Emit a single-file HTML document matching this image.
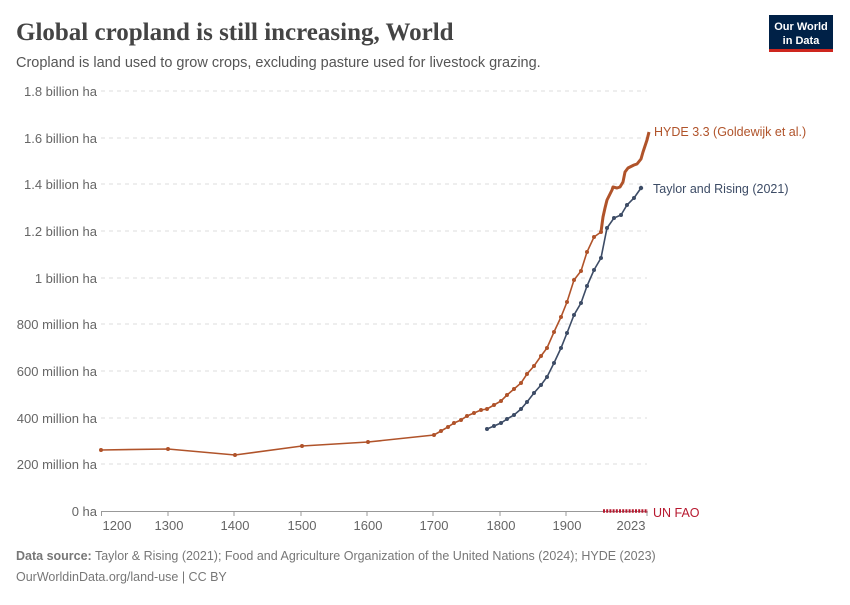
<!DOCTYPE html>
<html><head><meta charset="utf-8"><style>
body{margin:0;background:#fff;width:850px;height:600px;overflow:hidden;font-family:"Liberation Sans",sans-serif}
</style></head><body>
<svg width="850" height="600" xmlns="http://www.w3.org/2000/svg" font-family="Liberation Sans, sans-serif">
<text x="16" y="40" font-family="Liberation Serif, serif" font-size="25" font-weight="bold" fill="#444">Global cropland is still increasing, World</text>
<text x="16" y="67" font-size="14.5" fill="#555">Cropland is land used to grow crops, excluding pasture used for livestock grazing.</text>
<rect x="769" y="15" width="64" height="36" fill="#002147"/>
<rect x="769" y="49" width="64" height="3" fill="#ce261e"/>
<text x="801" y="30" font-size="11" font-weight="bold" fill="#fff" text-anchor="middle">Our World</text>
<text x="801" y="44" font-size="11" font-weight="bold" fill="#fff" text-anchor="middle">in Data</text>
<g stroke="#ddd" stroke-dasharray="4,4" stroke-width="1">
<line x1="101" x2="647" y1="91" y2="91"/><line x1="101" x2="647" y1="138" y2="138"/><line x1="101" x2="647" y1="184" y2="184"/><line x1="101" x2="647" y1="231" y2="231"/><line x1="101" x2="647" y1="278" y2="278"/><line x1="101" x2="647" y1="324" y2="324"/><line x1="101" x2="647" y1="371" y2="371"/><line x1="101" x2="647" y1="418" y2="418"/><line x1="101" x2="647" y1="464" y2="464"/>
</g>
<g font-size="13" fill="#666" text-anchor="end">
<text x="97" y="96">1.8 billion ha</text><text x="97" y="143">1.6 billion ha</text><text x="97" y="189">1.4 billion ha</text><text x="97" y="236">1.2 billion ha</text><text x="97" y="283">1 billion ha</text><text x="97" y="329">800 million ha</text><text x="97" y="376">600 million ha</text><text x="97" y="423">400 million ha</text><text x="97" y="469">200 million ha</text><text x="97" y="516">0 ha</text>
</g>
<line x1="101" x2="647" y1="511.5" y2="511.5" stroke="#999"/>
<g stroke="#999"><line x1="101.5" x2="101.5" y1="511" y2="516"/><line x1="168" x2="168" y1="511" y2="516"/><line x1="234" x2="234" y1="511" y2="516"/><line x1="301" x2="301" y1="511" y2="516"/><line x1="367" x2="367" y1="511" y2="516"/><line x1="433" x2="433" y1="511" y2="516"/><line x1="500" x2="500" y1="511" y2="516"/><line x1="566" x2="566" y1="511" y2="516"/><line x1="647" x2="647" y1="511" y2="516"/></g>
<g font-size="13" fill="#666" text-anchor="middle">
<text x="117" y="530">1200</text><text x="169" y="530">1300</text><text x="235" y="530">1400</text><text x="302" y="530">1500</text><text x="368" y="530">1600</text><text x="434" y="530">1700</text><text x="501" y="530">1800</text><text x="567" y="530">1900</text><text x="631" y="530">2023</text>
</g>
<polyline fill="none" stroke="#b0532a" stroke-width="1.6" points="101,450 168,449 235,455 302,446 368,442 434,435 441,431 448,427 454,423 461,420 467,416 474,413 481,410 487,409 494,405 501,401 507,395 514,389 521,383 527,374 534,366 541,356 547,348 554,332 561,317 567,302 574,280 581,271 587,252 594,237 601,232"/>
<g fill="#b0532a"><circle cx="101" cy="450" r="2"/><circle cx="168" cy="449" r="2"/><circle cx="235" cy="455" r="2"/><circle cx="302" cy="446" r="2"/><circle cx="368" cy="442" r="2"/><circle cx="434" cy="435" r="2"/><circle cx="441" cy="431" r="2"/><circle cx="448" cy="427" r="2"/><circle cx="454" cy="423" r="2"/><circle cx="461" cy="420" r="2"/><circle cx="467" cy="416" r="2"/><circle cx="474" cy="413" r="2"/><circle cx="481" cy="410" r="2"/><circle cx="487" cy="409" r="2"/><circle cx="494" cy="405" r="2"/><circle cx="501" cy="401" r="2"/><circle cx="507" cy="395" r="2"/><circle cx="514" cy="389" r="2"/><circle cx="521" cy="383" r="2"/><circle cx="527" cy="374" r="2"/><circle cx="534" cy="366" r="2"/><circle cx="541" cy="356" r="2"/><circle cx="547" cy="348" r="2"/><circle cx="554" cy="332" r="2"/><circle cx="561" cy="317" r="2"/><circle cx="567" cy="302" r="2"/><circle cx="574" cy="280" r="2"/><circle cx="581" cy="271" r="2"/><circle cx="587" cy="252" r="2"/><circle cx="594" cy="237" r="2"/><circle cx="601" cy="232" r="2"/></g>
<polyline fill="none" stroke="#b0532a" stroke-width="3" stroke-linejoin="round" points="601,232 603,217 605,208 607,200 610,194 612,190 613,187 617,188 620,187 623,182 625,172 628,168 630,167 634,165 637,164 641,159 643,152 645,146 647,140 649,132"/>
<polyline fill="none" stroke="#3d4c66" stroke-width="1.6" points="487,429 494,426 501,423 507,419 514,415 521,409 527,402 534,393 541,385 547,377 554,363 561,348 567,333 574,315 581,303 587,286 594,270 601,258 607,228 614,218 621,215 627,205 634,198 641,188"/>
<g fill="#3d4c66"><circle cx="487" cy="429" r="2"/><circle cx="494" cy="426" r="2"/><circle cx="501" cy="423" r="2"/><circle cx="507" cy="419" r="2"/><circle cx="514" cy="415" r="2"/><circle cx="521" cy="409" r="2"/><circle cx="527" cy="402" r="2"/><circle cx="534" cy="393" r="2"/><circle cx="541" cy="385" r="2"/><circle cx="547" cy="377" r="2"/><circle cx="554" cy="363" r="2"/><circle cx="561" cy="348" r="2"/><circle cx="567" cy="333" r="2"/><circle cx="574" cy="315" r="2"/><circle cx="581" cy="303" r="2"/><circle cx="587" cy="286" r="2"/><circle cx="594" cy="270" r="2"/><circle cx="601" cy="258" r="2"/><circle cx="607" cy="228" r="2"/><circle cx="614" cy="218" r="2"/><circle cx="621" cy="215" r="2"/><circle cx="627" cy="205" r="2"/><circle cx="634" cy="198" r="2"/><circle cx="641" cy="188" r="2.2"/></g>
<line x1="603" x2="648" y1="511" y2="511" stroke="#b7182f" stroke-width="3.5" stroke-dasharray="2,1.2"/>
<text x="654" y="136" font-size="12.5" fill="#b0532a">HYDE 3.3 (Goldewijk et al.)</text>
<text x="653" y="193" font-size="12.5" fill="#3d4c66">Taylor and Rising (2021)</text>
<text x="653" y="517" font-size="12.5" fill="#b7182f">UN FAO</text>
<text x="16" y="560" font-size="12.5" fill="#777"><tspan font-weight="bold">Data source:</tspan> Taylor &amp; Rising (2021); Food and Agriculture Organization of the United Nations (2024); HYDE (2023)</text>
<text x="16" y="581" font-size="12.5" fill="#777">OurWorldinData.org/land-use | CC BY</text>
</svg>
</body></html>
